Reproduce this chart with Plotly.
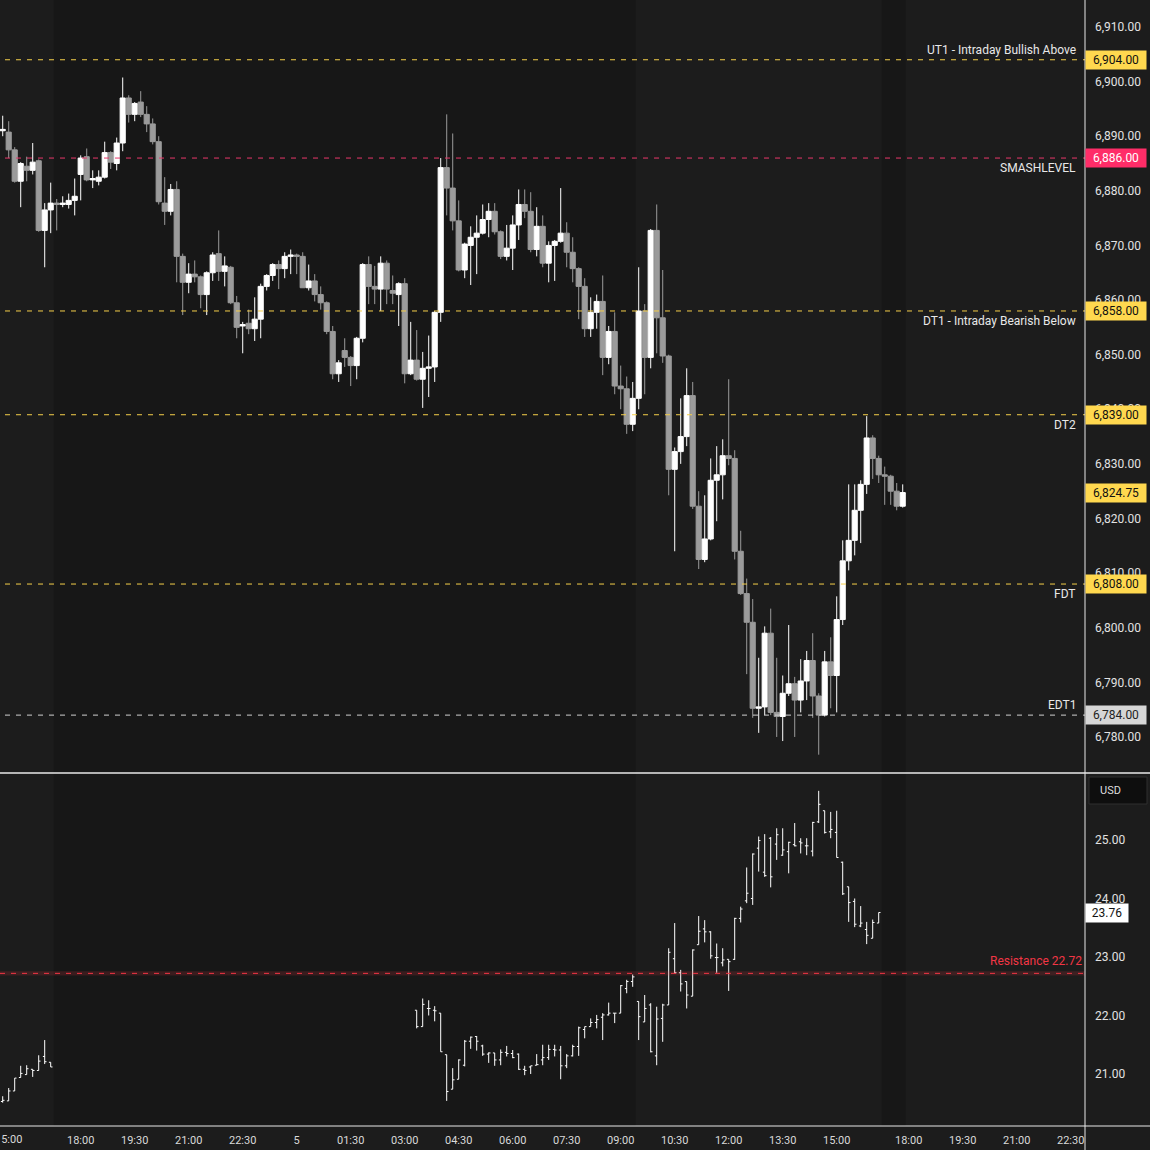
import plotly.graph_objects as go
import pandas as pd

# ---------------- data ----------------
es_times = list(pd.date_range("2025-12-04 14:50", "2025-12-04 16:50", freq="10min")) + \
           list(pd.date_range("2025-12-04 18:00", "2025-12-05 16:50", freq="10min"))

es_open = [6891.0, 6890.75, 6887.5, 6881.75, 6884.5, 6883.75, 6885.5, 6872.75, 6876.5, 6877.75,
           6877.5, 6877.5, 6878.25, 6883.0, 6886.25, 6882.0, 6881.75, 6882.5, 6887.0, 6885.0,
           6888.75, 6897.0, 6894.0, 6896.25, 6894.0, 6892.25, 6889.0, 6877.75, 6876.25, 6880.25,
           6868.0, 6863.25, 6864.75, 6864.25, 6861.0, 6865.0, 6868.5, 6865.25, 6866.0, 6859.5,
           6855.25, 6855.75, 6854.75, 6856.5, 6862.5, 6864.5, 6866.5, 6865.75, 6868.0, 6868.25,
           6868.0, 6862.25, 6863.5, 6861.0, 6859.5, 6854.25, 6846.5, 6850.75, 6849.5, 6848.0,
           6853.0, 6866.5, 6862.5, 6862.0, 6866.75, 6861.75, 6861.0, 6863.0, 6846.5, 6849.0,
           6845.5, 6847.5, 6847.75, 6857.75, 6884.25, 6880.5, 6874.5, 6865.5, 6870.0, 6871.5,
           6872.25, 6874.75, 6876.25, 6872.5, 6868.0, 6869.5, 6873.75, 6877.5, 6876.25, 6869.25,
           6873.5, 6866.75, 6870.0, 6870.75, 6872.25, 6868.75, 6865.75, 6862.5, 6854.75, 6857.75,
           6859.75, 6849.5, 6854.25, 6844.25, 6843.75, 6837.25, 6842.0, 6858.0, 6849.5, 6872.75,
           6856.75, 6849.75, 6829.0, 6832.25, 6835.0, 6842.5, 6822.25, 6812.5, 6816.25, 6827.0,
           6828.0, 6831.5, 6831.0, 6814.0, 6806.25, 6801.0, 6785.25, 6785.5, 6799.0, 6784.5,
           6783.75, 6788.0, 6789.75, 6786.75, 6790.25, 6794.0, 6787.5, 6784.0, 6793.75, 6791.25,
           6801.5, 6812.25, 6816.0, 6821.5, 6826.25, 6834.75, 6831.0, 6828.0, 6827.75, 6825.0,
           6822.25]
es_high = [6893.75, 6892.75, 6888.0, 6885.25, 6886.25, 6888.75, 6885.75, 6877.75, 6881.5, 6878.5,
           6879.0, 6879.5, 6882.25, 6886.5, 6887.75, 6883.75, 6883.75, 6889.0, 6887.25, 6889.75,
           6900.75, 6897.5, 6896.25, 6898.25, 6895.5, 6893.25, 6890.0, 6882.5, 6881.25, 6881.75,
           6868.5, 6866.75, 6867.25, 6864.5, 6865.25, 6868.75, 6872.75, 6868.0, 6866.25, 6860.75,
           6856.0, 6858.25, 6860.5, 6863.0, 6864.75, 6866.75, 6867.25, 6868.75, 6869.25, 6868.5,
           6868.75, 6866.5, 6864.75, 6862.5, 6859.75, 6855.25, 6849.0, 6853.0, 6849.75, 6853.25,
           6866.75, 6868.0, 6866.25, 6868.0, 6867.25, 6864.5, 6863.25, 6864.0, 6856.0, 6854.5,
           6850.5, 6853.5, 6858.0, 6886.0, 6894.0, 6890.5, 6878.25, 6870.5, 6873.5, 6875.5,
           6877.5, 6877.75, 6877.75, 6872.75, 6873.75, 6875.5, 6880.25, 6880.25, 6879.75, 6877.0,
           6875.5, 6870.75, 6871.0, 6880.5, 6874.25, 6871.5, 6866.0, 6864.0, 6860.5, 6861.0,
           6864.5, 6855.25, 6857.75, 6848.0, 6846.0, 6845.0, 6866.0, 6859.25, 6873.0, 6877.5,
           6865.5, 6850.0, 6833.0, 6842.0, 6847.5, 6845.0, 6825.0, 6824.25, 6831.0, 6833.25,
           6834.5, 6845.5, 6832.5, 6817.75, 6809.0, 6805.25, 6794.5, 6800.25, 6803.5, 6794.5,
           6791.25, 6800.5, 6791.0, 6794.25, 6795.75, 6799.0, 6788.0, 6795.75, 6798.25, 6805.75,
           6816.0, 6826.25, 6826.25, 6827.0, 6838.75, 6835.25, 6831.5, 6829.5, 6828.0, 6826.5,
           6826.25]
es_low = [6890.0, 6886.0, 6881.5, 6877.0, 6881.75, 6883.0, 6872.5, 6866.0, 6872.25, 6872.75,
          6877.0, 6876.75, 6875.5, 6878.25, 6881.75, 6880.5, 6881.0, 6882.25, 6884.0, 6883.75,
          6887.25, 6892.5, 6892.75, 6893.5, 6890.75, 6888.5, 6877.5, 6873.75, 6875.5, 6863.25,
          6857.25, 6861.25, 6863.25, 6858.5, 6857.25, 6863.5, 6863.5, 6862.5, 6859.25, 6853.0,
          6850.25, 6853.75, 6852.5, 6853.0, 6861.75, 6863.5, 6862.0, 6864.0, 6864.75, 6864.75,
          6862.25, 6861.75, 6859.75, 6858.25, 6853.75, 6845.5, 6845.0, 6847.75, 6844.25, 6845.5,
          6852.25, 6859.25, 6859.25, 6858.0, 6859.25, 6859.25, 6855.25, 6844.75, 6846.25, 6845.25,
          6840.25, 6842.25, 6845.0, 6856.0, 6875.5, 6872.75, 6865.25, 6864.0, 6862.75, 6864.75,
          6872.0, 6871.5, 6872.0, 6867.5, 6867.25, 6865.5, 6871.0, 6875.0, 6868.75, 6868.0,
          6866.0, 6863.25, 6863.5, 6870.5, 6866.0, 6863.25, 6856.5, 6853.25, 6853.25, 6854.75,
          6846.25, 6848.25, 6842.75, 6840.0, 6835.5, 6836.0, 6840.0, 6842.75, 6847.5, 6850.25,
          6848.5, 6824.25, 6814.0, 6830.0, 6833.25, 6821.75, 6810.75, 6812.0, 6816.0, 6819.5,
          6823.5, 6829.75, 6812.5, 6806.0, 6791.5, 6783.5, 6780.75, 6784.0, 6784.0, 6780.0,
          6779.25, 6787.5, 6780.0, 6784.5, 6786.75, 6783.5, 6776.75, 6783.75, 6785.25, 6784.5,
          6800.5, 6810.5, 6813.25, 6815.5, 6824.5, 6827.25, 6826.5, 6822.5, 6822.5, 6821.5,
          6822.0]
es_close = [6891.25, 6887.5, 6881.75, 6885.0, 6883.75, 6885.25, 6872.75, 6876.5, 6877.75, 6877.5,
            6877.75, 6878.25, 6879.0, 6886.0, 6882.0, 6882.25, 6882.5, 6887.0, 6885.25, 6888.75,
            6897.0, 6894.0, 6896.0, 6894.0, 6892.25, 6889.0, 6878.0, 6876.25, 6880.25, 6868.0,
            6863.25, 6864.75, 6864.25, 6861.0, 6865.0, 6868.25, 6865.25, 6866.25, 6859.5, 6855.0,
            6855.5, 6854.75, 6856.5, 6862.5, 6864.5, 6866.5, 6865.75, 6868.0, 6868.25, 6868.0,
            6862.25, 6863.5, 6861.0, 6859.5, 6854.25, 6846.5, 6848.5, 6849.5, 6848.0, 6853.0,
            6866.5, 6862.5, 6862.0, 6866.75, 6862.0, 6861.25, 6863.0, 6846.5, 6849.0, 6845.5,
            6847.5, 6847.75, 6857.75, 6884.25, 6880.5, 6874.5, 6865.5, 6870.25, 6871.5, 6872.25,
            6874.75, 6876.25, 6872.5, 6868.0, 6869.5, 6873.75, 6877.5, 6876.25, 6869.25, 6873.5,
            6866.75, 6870.0, 6870.75, 6872.25, 6868.75, 6865.75, 6862.5, 6854.75, 6857.75, 6859.75,
            6849.5, 6854.25, 6844.25, 6843.75, 6837.25, 6842.0, 6858.0, 6849.5, 6872.75, 6856.75,
            6849.75, 6829.0, 6832.25, 6835.0, 6842.5, 6822.25, 6812.5, 6816.25, 6827.0, 6828.0,
            6831.5, 6831.0, 6814.0, 6806.25, 6801.0, 6785.25, 6785.5, 6799.0, 6784.5, 6783.75,
            6788.0, 6789.75, 6786.75, 6790.25, 6794.0, 6787.5, 6784.0, 6793.75, 6791.25, 6801.5,
            6812.25, 6816.0, 6821.5, 6826.25, 6834.75, 6831.0, 6828.0, 6827.75, 6825.0, 6822.25,
            6824.75]

vix_times = list(pd.date_range("2025-12-04 14:50", "2025-12-04 16:10", freq="10min")) + \
            list(pd.date_range("2025-12-05 03:20", "2025-12-05 16:10", freq="10min"))

vix_open = [20.53, 20.54, 20.71, 20.94, 20.99, 21.08, 21.06, 21.30, 21.20,
            22.09, 21.81, 22.12, 22.09, 22.04, 21.33, 20.74, 20.91, 21.15, 21.56,
            21.64, 21.48, 21.34, 21.36, 21.24, 21.37, 21.35, 21.34, 21.08, 21.12,
            21.15, 21.24, 21.28, 21.42, 21.41, 21.14, 21.31, 21.47, 21.76, 21.81,
            21.88, 21.97, 22.01, 22.04, 22.04, 22.46, 22.58, 22.24, 21.89, 22.18,
            21.31, 21.95, 22.18, 22.97, 22.73, 22.58, 22.33, 23.21, 23.48, 23.43,
            22.99, 22.90, 22.96, 22.96, 23.66, 23.96, 24.00, 24.86, 24.45, 25.03,
            24.93, 24.74, 24.80, 24.92, 24.97, 24.90, 24.81, 25.31, 25.50, 25.14,
            25.13, 24.62, 24.20, 23.95, 23.53, 23.47, 23.32, 23.58]
vix_high = [20.62, 20.76, 20.93, 21.14, 21.15, 21.08, 21.32, 21.58, 21.20,
            22.09, 22.29, 22.26, 22.16, 22.04, 21.33, 21.10, 21.25, 21.58, 21.64,
            21.65, 21.50, 21.37, 21.36, 21.42, 21.48, 21.41, 21.35, 21.14, 21.14,
            21.34, 21.50, 21.50, 21.50, 21.48, 21.34, 21.50, 21.81, 21.81, 21.95,
            22.01, 22.04, 22.22, 22.04, 22.52, 22.61, 22.70, 22.24, 22.35, 22.21,
            22.15, 22.20, 23.15, 23.58, 22.78, 22.58, 23.13, 23.70, 23.63, 23.44,
            23.23, 23.15, 22.96, 23.67, 23.86, 24.53, 24.77, 25.06, 25.10, 25.05,
            25.20, 25.20, 24.97, 25.29, 25.03, 25.03, 25.31, 25.84, 25.50, 25.48,
            25.50, 24.63, 24.20, 24.00, 23.87, 23.60, 23.64, 23.76]
vix_low = [20.51, 20.54, 20.71, 20.94, 20.99, 20.95, 21.06, 21.17, 21.12,
           21.78, 21.81, 22.00, 21.90, 21.38, 20.54, 20.74, 20.91, 21.13, 21.43,
           21.40, 21.31, 21.19, 21.14, 21.15, 21.30, 21.27, 21.07, 20.98, 21.00,
           21.15, 21.15, 21.24, 21.30, 20.91, 21.10, 21.30, 21.31, 21.61, 21.81,
           21.78, 21.58, 22.00, 21.87, 22.04, 22.38, 22.49, 21.58, 21.89, 21.37,
           21.15, 21.55, 22.18, 22.72, 22.41, 22.12, 22.33, 23.21, 23.25, 22.97,
           22.73, 22.84, 22.42, 22.95, 23.59, 23.92, 23.89, 24.46, 24.37, 24.19,
           24.66, 24.73, 24.43, 24.89, 24.77, 24.74, 24.72, 25.29, 25.11, 25.03,
           24.70, 24.06, 23.60, 23.51, 23.51, 23.22, 23.32, 23.58]
vix_close = [20.55, 20.71, 20.93, 21.01, 21.09, 21.06, 21.22, 21.21, 21.12,
             21.81, 22.19, 22.12, 22.08, 21.38, 20.70, 20.90, 21.24, 21.56, 21.63,
             21.56, 21.34, 21.36, 21.24, 21.37, 21.35, 21.28, 21.08, 21.06, 21.14,
             21.16, 21.28, 21.42, 21.41, 21.14, 21.31, 21.47, 21.79, 21.81, 21.88,
             21.93, 22.01, 22.04, 22.04, 22.51, 22.58, 22.66, 21.98, 22.12, 21.38,
             21.94, 22.18, 23.08, 22.73, 22.54, 22.35, 23.12, 23.44, 23.43, 23.02,
             22.99, 22.95, 22.92, 23.66, 23.82, 24.09, 24.76, 24.99, 24.39, 24.37,
             25.09, 24.83, 24.96, 24.90, 24.95, 24.90, 25.30, 25.61, 25.13, 25.18,
             24.70, 24.08, 23.93, 23.56, 23.58, 23.37, 23.59, 23.76]

# price levels
level_names = ["UT1 - Intraday Bullish Above", "SMASHLEVEL", "DT1 - Intraday Bearish Below",
               "DT2", "FDT", "EDT1"]
level_values = [6904.00, 6886.00, 6858.00, 6839.00, 6808.00, 6784.00]
level_line_colors = ["#f5cf4a", "#e8386a", "#f5cf4a", "#f5cf4a", "#f5cf4a", "#d0d0d0"]
level_box_colors = ["#ffd84f", "#ff2d68", "#ffd84f", "#ffd84f", "#ffd84f", "#d6d6d6"]
level_box_text = ["#111111", "#ffffff", "#111111", "#111111", "#111111", "#222222"]
level_label_above = [True, False, False, False, False, True]

last_price = 6824.75
resistance_value = 22.72
vix_last = 23.76

# the first tick (15:00 on the 4th) sits at the very left edge and is drawn cut off
edge_tick_time = "2025-12-04 15:00"
edge_tick_text = "15:00"
x_tick_times = ["2025-12-04 18:00", "2025-12-04 19:30", "2025-12-04 21:00",
                "2025-12-04 22:30", "2025-12-05 00:00", "2025-12-05 01:30", "2025-12-05 03:00",
                "2025-12-05 04:30", "2025-12-05 06:00", "2025-12-05 07:30", "2025-12-05 09:00",
                "2025-12-05 10:30", "2025-12-05 12:00", "2025-12-05 13:30", "2025-12-05 15:00",
                "2025-12-05 18:00", "2025-12-05 19:30", "2025-12-05 21:00", "2025-12-05 22:30"]
x_tick_text = ["18:00", "19:30", "21:00", "22:30", "5", "01:30", "03:00", "04:30",
               "06:00", "07:30", "09:00", "10:30", "12:00", "13:30", "15:00", "18:00", "19:30",
               "21:00", "22:30"]

es_ticks = list(range(6780, 6911, 10))
vix_ticks = [21, 22, 23, 24, 25]

# extended-hours shading (outside regular session)
eth_starts = ["2025-12-04 16:15", "2025-12-05 16:15"]
eth_ends = ["2025-12-05 09:25", "2025-12-05 16:55"]

# ---------------- layout geometry ----------------
W, H = 1150, 1150
ML, MR, MT, MB = 0, 65, 0, 24
PW, PH = W - ML - MR, H - MT - MB
split = 1 - 773 / PH

BG = "#1c1c1c"
ETH_BG = "#171717"
TXT = "#e2e2e2"
FONT = "Roboto"

fig = go.Figure()

fig.add_trace(go.Candlestick(
    x=es_times, open=es_open, high=es_high, low=es_low, close=es_close,
    xaxis="x2", yaxis="y",
    increasing=dict(line=dict(color="#ffffff", width=1), fillcolor="#ffffff"),
    decreasing=dict(line=dict(color="#9b9b9b", width=1), fillcolor="#9b9b9b"),
    whiskerwidth=0, hoverinfo="skip", showlegend=False,
))

fig.add_trace(go.Ohlc(
    x=vix_times, open=vix_open, high=vix_high, low=vix_low, close=vix_close,
    xaxis="x", yaxis="y2",
    increasing=dict(line=dict(color="#ffffff", width=1)),
    decreasing=dict(line=dict(color="#ffffff", width=1)),
    tickwidth=0.3, hoverinfo="skip", showlegend=False,
))

x_range = ["2025-12-04 14:45:30", "2025-12-05 22:53:50"]
breaks = [dict(bounds=[17, 18], pattern="hour")]
common_x = dict(type="date", range=x_range, rangebreaks=breaks, showgrid=False, zeroline=False,
                showline=False, ticks="", rangeslider=dict(visible=False), fixedrange=True,
                automargin=False)

shapes = []
for s, e in zip(eth_starts, eth_ends):
    shapes.append(dict(type="rect", xref="x", yref="paper", x0=s, x1=e, y0=0, y1=1,
                       fillcolor=ETH_BG, line=dict(width=0), layer="below"))

annotations = []
for name, val, lc, bc, tc, above in zip(level_names, level_values, level_line_colors,
                                        level_box_colors, level_box_text, level_label_above):
    shapes.append(dict(type="line", xref="paper", yref="y", x0=5 / PW, x1=1, y0=val, y1=val,
                       line=dict(color=lc, width=1, dash="5px,6px")))
    annotations.append(dict(xref="paper", yref="y", x=1078 / PW, y=val, text=name,
                            xanchor="right", yanchor="middle", yshift=10 if above else -10,
                            showarrow=False, font=dict(family=FONT, size=12, color="#e8e8e8")))
    annotations.append(dict(xref="paper", yref="y", x=1, y=val, text=f"{val:,.2f}",
                            xanchor="left", yanchor="middle", showarrow=False, bgcolor=bc,
                            width=58, height=16, borderpad=1, align="center",
                            font=dict(family=FONT, size=12, color=tc)))

annotations.append(dict(xref="paper", yref="y", x=1, y=last_price, text=f"{last_price:,.2f}",
                        xanchor="left", yanchor="middle", showarrow=False, bgcolor="#ffd84f",
                        width=58, height=16, borderpad=1, align="center",
                        font=dict(family=FONT, size=12, color="#111111")))

# resistance on VIX pane
shapes.append(dict(type="rect", xref="paper", yref="y2", x0=0, x1=1,
                   y0=resistance_value - 0.035, y1=resistance_value + 0.035,
                   fillcolor="rgba(242,54,69,0.16)", line=dict(width=0)))
shapes.append(dict(type="line", xref="paper", yref="y2", x0=0, x1=1,
                   y0=resistance_value, y1=resistance_value,
                   line=dict(color="#f23645", width=1, dash="5px,6px")))
annotations.append(dict(xref="paper", yref="y2", x=1084 / PW, y=resistance_value,
                        text=f"Resistance {resistance_value:.2f}", xanchor="right",
                        yanchor="middle", yshift=12, showarrow=False,
                        font=dict(family=FONT, size=12, color="#f23645")))
annotations.append(dict(xref="paper", yref="y2", x=1, y=vix_last, text=f"{vix_last:.2f}",
                        xanchor="left", yanchor="middle", showarrow=False, bgcolor="#ffffff",
                        width=40, height=16, borderpad=1, align="center",
                        font=dict(family=FONT, size=12, color="#111111")))

# cut-off first time label at the left edge
annotations.append(dict(xref="x", yref="paper", x=edge_tick_time, y=0, text=edge_tick_text,
                        xanchor="center", yanchor="top", yshift=-5, showarrow=False,
                        font=dict(family=FONT, size=11, color="#d9d9d9")))

# USD box
shapes.append(dict(type="rect", xref="paper", yref="paper",
                   x0=1089 / PW, x1=1147 / PW, y0=(PH - 804) / PH, y1=(PH - 777) / PH,
                   fillcolor="#0e0e0e", line=dict(color="#2e2e2e", width=1)))
annotations.append(dict(xref="paper", yref="paper", x=1098 / PW, y=(PH - 790.5) / PH,
                        text="USD", xanchor="left", yanchor="middle", showarrow=False,
                        font=dict(family=FONT, size=11, color="#dedede")))

# frame lines
shapes.append(dict(type="line", xref="paper", yref="paper", x0=0, x1=W / PW, y0=split, y1=split,
                   line=dict(color="#e8e8e8", width=1.5)))
shapes.append(dict(type="line", xref="paper", yref="paper", x0=0, x1=W / PW, y0=0, y1=0,
                   line=dict(color="#e8e8e8", width=1)))
shapes.append(dict(type="line", xref="paper", yref="paper", x0=1, x1=1, y0=-MB / PH, y1=1,
                   line=dict(color="#e8e8e8", width=1)))

fig.update_layout(
    width=W, height=H, margin=dict(l=ML, r=MR, t=MT, b=MB, autoexpand=False),
    paper_bgcolor=BG, plot_bgcolor=BG,
    showlegend=False, hovermode=False, dragmode=False,
    boxgap=0.1, boxgroupgap=0.05,
    font=dict(family=FONT, size=12, color=TXT),
    xaxis=dict(**common_x, domain=[0, 1], anchor="y2",
               tickvals=x_tick_times, ticktext=x_tick_text,
               tickfont=dict(family=FONT, size=11, color="#d9d9d9"), ticklabelstandoff=6),
    xaxis2=dict(**common_x, domain=[0, 1], anchor="y", showticklabels=False),
    yaxis=dict(domain=[split, 1], anchor="x2", side="right",
               range=[6773.4, 6914.94], tickvals=es_ticks, tickformat=",.2f",
               showgrid=False, zeroline=False, showline=False, ticks="",
               ticklabelstandoff=9, tickfont=dict(family=FONT, size=12, color=TXT),
               fixedrange=True),
    yaxis2=dict(domain=[0, split], anchor="x", side="right",
                range=[20.111, 26.145], tickvals=vix_ticks, tickformat=".2f",
                showgrid=False, zeroline=False, showline=False, ticks="",
                ticklabelstandoff=9, tickfont=dict(family=FONT, size=12, color=TXT),
                fixedrange=True),
    shapes=shapes, annotations=annotations,
)

fig.write_html(
    "out.html",
    config={"displayModeBar": False},
    post_script="document.body.style.margin='0';document.body.style.overflow='hidden';"
                "document.body.style.background='#1c1c1c';",
)
